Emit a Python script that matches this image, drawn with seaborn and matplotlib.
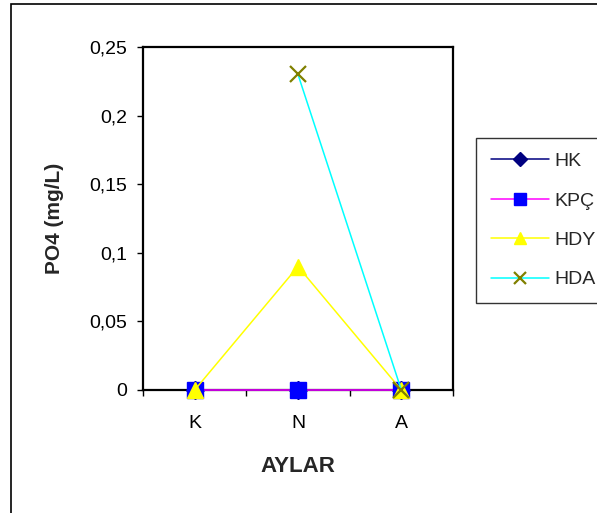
import numpy as np
import pandas as pd
import matplotlib
matplotlib.use("Agg")
import matplotlib.pyplot as plt
import seaborn as sns
from matplotlib.patches import Rectangle
from matplotlib.ticker import FuncFormatter, FixedLocator

months = ["K", "N", "A"]
hk = [0.0, 0.0, 0.0]
kpc = [0.0, 0.0, 0.0]
hdy = [0.0, 0.09, 0.0]
hda = [np.nan, 0.23, 0.0]
series_names = ["HK", "KPÇ", "HDY", "HDA"]
yticks = [0, 0.05, 0.1, 0.15, 0.2, 0.25]

sns.set_theme(style="white")
plt.rcParams["font.family"] = ["Liberation Sans", "DejaVu Sans"]

fig = plt.figure(figsize=(5.97, 5.13), dpi=100)
ax = fig.add_axes([143/597, 1-390/513, 310/597, 343/513])

fig.patches.append(Rectangle((11/597, -0.2), 1.2, 1.2-4/513, transform=fig.transFigure,
                             fill=False, edgecolor="black", linewidth=1.2, zorder=0))

styles = {
    "HK": dict(color="#000080", marker="D", ms=9, mec="#000080"),
    "KPÇ": dict(color="#FF00FF", marker="s", ms=11, mec="#0000FF", mfc="#0000FF"),
    "HDY": dict(color="#FFFF00", marker="^", ms=12, mec="#FFFF00"),
    "HDA": dict(color="#00FFFF", marker="x", ms=11, mec="#808000", mew=1.6),
}
data = {"HK": hk, "KPÇ": kpc, "HDY": hdy, "HDA": hda}
xpos = np.arange(len(months))
for name in series_names:
    df = pd.DataFrame({"x": xpos, "y": data[name]})
    st = styles[name]
    sns.lineplot(data=df, x="x", y="y", ax=ax, color=st["color"], linewidth=1.1,
                 marker=st["marker"], markersize=st["ms"],
                 markeredgecolor=st.get("mec", st["color"]),
                 markerfacecolor=st.get("mfc", st["color"]),
                 markeredgewidth=st.get("mew", 1.0),
                 label=name, clip_on=False, zorder=3)

ax.set_xlim(-0.5, 2.5)
ax.set_ylim(0, 0.25)
ax.xaxis.set_major_locator(FixedLocator(xpos))
ax.set_xticklabels(months)
ax.xaxis.set_minor_locator(FixedLocator([-0.5, 0.5, 1.5, 2.5]))
ax.tick_params(axis="x", which="major", length=0, labelsize=14, pad=18, colors="black")
ax.tick_params(axis="x", which="minor", length=4.5, width=1, direction="out", colors="black", bottom=True)
ax.set_yticks(yticks)
ax.yaxis.set_major_formatter(FuncFormatter(lambda v, p: ("%g" % v).replace(".", ",")))
ax.tick_params(axis="y", length=4.5, width=1, direction="out", labelsize=14, pad=7, colors="black", left=True)
for s in ax.spines.values():
    s.set_color("black")
    s.set_linewidth(1.6)
ax.set_xlabel("AYLAR", fontsize=16, fontweight="bold", va="top")
ax.xaxis.set_label_coords(0.5, -(456 - 390) / 343)
ax.set_ylabel("PO4 (mg/L)", fontsize=15, fontweight="bold")
ax.yaxis.set_label_coords((64 - 143) / 310, 0.5)

leg = ax.legend(loc="upper left", bbox_to_anchor=(476/597, 1-138/513), bbox_transform=fig.transFigure,
                frameon=True, fancybox=False, fontsize=14, handlelength=3.0,
                labelspacing=1.12, borderpad=0.75, handletextpad=0.3, borderaxespad=0)
leg.get_frame().set_edgecolor("black")
leg.get_frame().set_linewidth(1.0)
for h in leg.get_lines():
    h.set_markersize(h.get_markersize() * 0.75)

fig.savefig("out.png", dpi=100)
